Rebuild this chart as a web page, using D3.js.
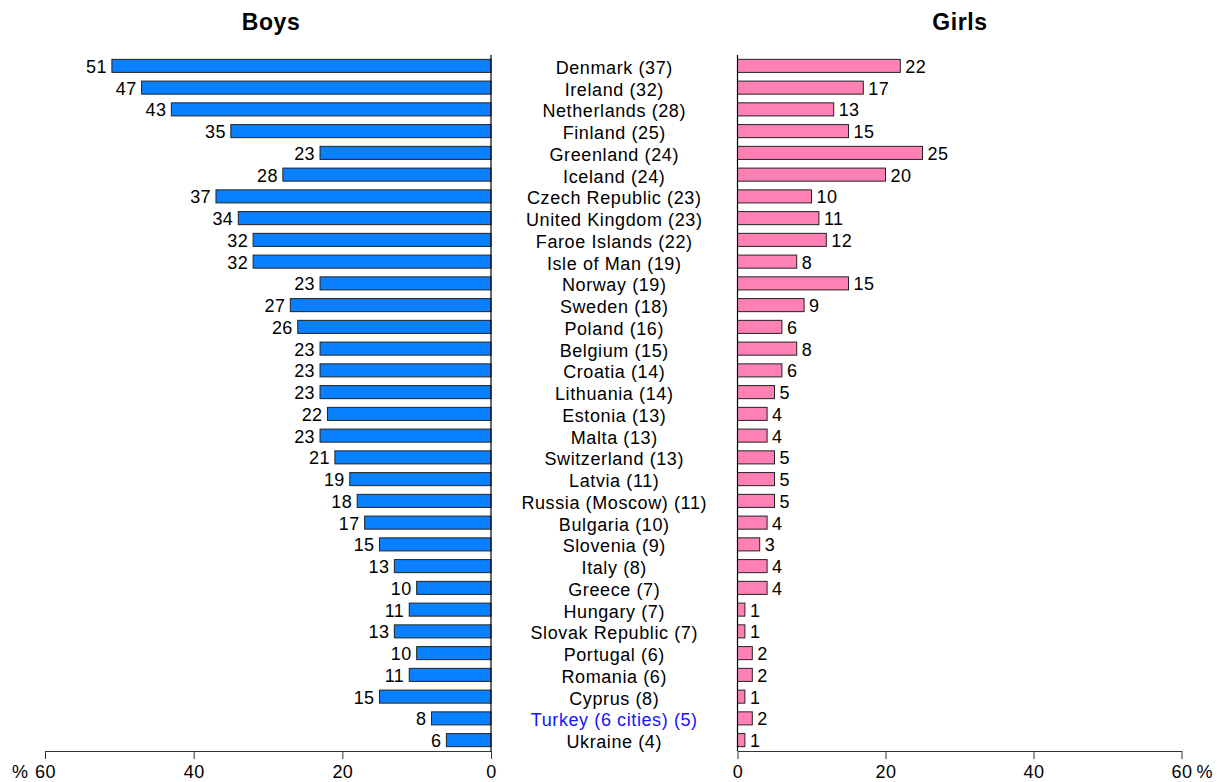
<!DOCTYPE html>
<html><head><meta charset="utf-8">
<script src="https://cdn.jsdelivr.net/npm/d3@7"></script>
<style>body{margin:0;background:#fff}svg{display:block;font-family:"Liberation Sans",Arial,Helvetica,sans-serif}</style>
</head><body><svg id="c" width="1225" height="782"></svg>
<script>
const countries = ["Denmark (37)","Ireland (32)","Netherlands (28)","Finland (25)","Greenland (24)","Iceland (24)","Czech Republic (23)","United Kingdom (23)","Faroe Islands (22)","Isle of Man (19)","Norway (19)","Sweden (18)","Poland (16)","Belgium (15)","Croatia (14)","Lithuania (14)","Estonia (13)","Malta (13)","Switzerland (13)","Latvia (11)","Russia (Moscow) (11)","Bulgaria (10)","Slovenia (9)","Italy (8)","Greece (7)","Hungary (7)","Slovak Republic (7)","Portugal (6)","Romania (6)","Cyprus (8)","Turkey (6 cities) (5)","Ukraine (4)"];
const boys = [51,47,43,35,23,28,37,34,32,32,23,27,26,23,23,23,22,23,21,19,18,17,15,13,10,11,13,10,11,15,8,6];
const girls = [22,17,13,15,25,20,10,11,12,8,15,9,6,8,6,5,4,4,5,5,5,4,3,4,4,1,1,2,2,1,2,1];
const highlighted = ["Turkey (6 cities) (5)"];
const ticks = [0,20,40,60];
const titles = ["Boys","Girls"];

const svg = d3.select("#c");
const y = d3.scaleBand().domain(countries).range([55,751]).paddingInner(0.4).paddingOuter(0.2);
const xB = d3.scaleLinear().domain([0,60]).range([491,45]);
const xG = d3.scaleLinear().domain([0,60]).range([737.5,1181.5]);
const fs = 18;
const ls = 0.6;
const cy = d => y(d)+y.bandwidth()/2;

// Boys bars
svg.append("g").selectAll("rect").data(countries).join("rect")
  .attr("x",(d,i)=>xB(boys[i])).attr("y",d=>y(d))
  .attr("width",(d,i)=>xB(0)-xB(boys[i])).attr("height",y.bandwidth())
  .attr("fill","#0880ff").attr("stroke","#222").attr("stroke-width",1);
svg.append("g").selectAll("text").data(countries).join("text")
  .attr("x",(d,i)=>xB(boys[i])-5).attr("y",d=>cy(d)+7)
  .attr("text-anchor","end").attr("font-size",fs).attr("letter-spacing",0.4).attr("fill","#000")
  .text((d,i)=>boys[i]);

// Girls bars
svg.append("g").selectAll("rect").data(countries).join("rect")
  .attr("x",xG(0)).attr("y",d=>y(d))
  .attr("width",(d,i)=>xG(girls[i])-xG(0)).attr("height",y.bandwidth())
  .attr("fill","#ff80b4").attr("stroke","#222").attr("stroke-width",1);
svg.append("g").selectAll("text").data(countries).join("text")
  .attr("x",(d,i)=>xG(girls[i])+5).attr("y",d=>cy(d)+7)
  .attr("text-anchor","start").attr("font-size",fs).attr("letter-spacing",0.4).attr("fill","#000")
  .text((d,i)=>girls[i]);

// Category labels
const midX = (xB(0)+xG(0))/2;
svg.append("g").selectAll("text").data(countries).join("text")
  .attr("x",midX).attr("y",d=>cy(d)+8)
  .attr("text-anchor","middle").attr("font-size",fs).attr("letter-spacing",ls)
  .attr("fill",d=>highlighted.includes(d)?"#1414ff":"#000").text(d=>d);

// Vertical zero lines
[xB(0),xG(0)].forEach(x=>svg.append("line").attr("x1",x).attr("x2",x).attr("y1",55).attr("y2",751).attr("stroke","#000").attr("stroke-width",1.2));

// Bottom axes
function axis(scale, pct){
  const g = svg.append("g").attr("transform","translate(0,751)");
  const ax = d3.axisBottom(scale).tickValues(ticks).tickSize(8).tickSizeOuter(0).tickPadding(6.5);
  g.call(ax);
  g.select(".domain").attr("stroke","#333");
  g.selectAll(".tick line").attr("stroke","#333");
  g.selectAll(".tick text").attr("font-size",fs).attr("letter-spacing",0.4).attr("font-family","Liberation Sans, Arial, sans-serif").attr("fill","#000");
  const x60 = scale(60);
  svg.append("text").attr("x", pct==="left" ? x60-17 : x60+15).attr("y",778.3)
    .attr("text-anchor", pct==="left" ? "end":"start").attr("font-size",fs).attr("fill","#000").text("%");
}
axis(xB,"left");
axis(xG,"right");

// Titles
svg.append("text").attr("x",271).attr("y",29.5).attr("text-anchor","middle")
  .attr("font-size",23).attr("font-weight","bold").attr("letter-spacing",0.6).attr("fill","#000").text(titles[0]);
svg.append("text").attr("x",960).attr("y",29.5).attr("text-anchor","middle")
  .attr("font-size",23).attr("font-weight","bold").attr("letter-spacing",0.6).attr("fill","#000").text(titles[1]);
</script></body></html>
